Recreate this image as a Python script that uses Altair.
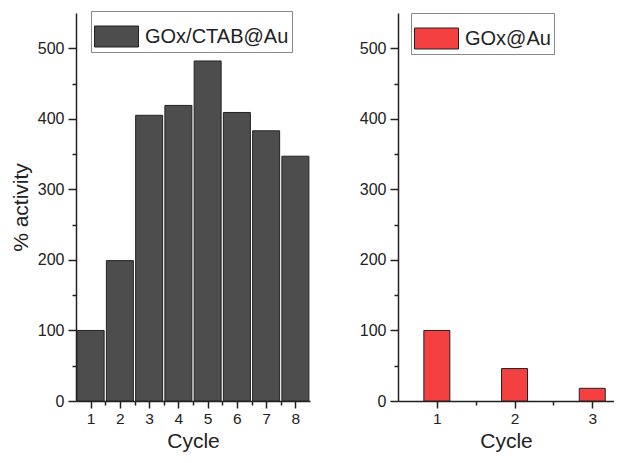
import altair as alt
import pandas as pd

# ---- data ----
series_a = "GOx/CTAB@Au"
cycles_a = [1, 2, 3, 4, 5, 6, 7, 8]
activity_a = [100, 199, 405, 419, 482, 409, 383, 347]

series_b = "GOx@Au"
cycles_b = [1, 2, 3]
activity_b = [100, 46, 18]

y_ticks = [0, 50, 100, 150, 200, 250, 300, 350, 400, 450, 500]
x_ticks_a = [1, 1.5, 2, 2.5, 3, 3.5, 4, 4.5, 5, 5.5, 6, 6.5, 7, 7.5, 8]
x_ticks_b = [1, 1.5, 2, 2.5, 3]

df_a = pd.DataFrame({"Cycle": cycles_a, "activity": activity_a, "series": series_a})
df_b = pd.DataFrame({"Cycle": cycles_b, "activity": activity_b, "series": series_b})

FONT = "Liberation Sans"
INK = "#222222"


def y_axis(title):
    return alt.Axis(
        values=y_ticks,
        title=title,
        format="d",
        labelExpr="datum.value % 100 === 0 ? datum.label : ''",
        tickSize={"condition": {"test": "datum.value % 100 === 0", "value": 8}, "value": 4},
        labelFontSize=16,
        labelPadding=4,
        titleFontSize=21,
        titleFontWeight="normal",
        titlePadding=6,
        grid=False,
        labelOverlap=False,
    )


def x_axis(values):
    return alt.Axis(
        values=values,
        title="Cycle",
        format="~r",
        labelExpr="datum.value % 1 === 0 ? datum.label : ''",
        tickSize={"condition": {"test": "datum.value % 1 === 0", "value": 7}, "value": 4},
        labelFontSize=15.5,
        labelPadding=3,
        titleFontSize=21,
        titleFontWeight="normal",
        titlePadding=4,
        grid=False,
        labelOverlap=False,
        labelFlush=False,
    )


def legend(x, y):
    return alt.Legend(
        orient="none",
        legendX=x,
        legendY=y,
        title=None,
        symbolType="M-1,-0.477H1V0.477H-1Z",
        symbolSize=1936,
        symbolStrokeColor=INK,
        symbolStrokeWidth=1,
        symbolOpacity=1,
        labelFontSize=20,
        labelFont=FONT,
        labelColor=INK,
        labelOffset=6,
        padding=3,
        strokeColor="#8a8a8a",
        fillColor="white",
    )


left = (
    alt.Chart(df_a)
    .mark_bar(size=27, stroke=INK, strokeWidth=1)
    .encode(
        x=alt.X("Cycle:Q", scale=alt.Scale(domain=[0.5, 8.5], nice=False, zero=False, padding=0), axis=x_axis(x_ticks_a)),
        y=alt.Y("activity:Q", scale=alt.Scale(domain=[0, 550], nice=False, padding=0), axis=y_axis("% activity")),
        color=alt.Color(
            "series:N",
            scale=alt.Scale(domain=[series_a], range=["#4d4d4d"]),
            legend=legend(15, -2),
        ),
    )
    .properties(width=234, height=388)
)

right = (
    alt.Chart(df_b)
    .mark_bar(size=26, stroke=INK, strokeWidth=1)
    .encode(
        x=alt.X("Cycle:Q", scale=alt.Scale(domain=[0.5, 3.28], nice=False, zero=False, padding=0), axis=x_axis(x_ticks_b)),
        y=alt.Y("activity:Q", scale=alt.Scale(domain=[0, 550], nice=False, padding=0), axis=y_axis(None)),
        color=alt.Color(
            "series:N",
            scale=alt.Scale(domain=[series_b], range=["#f44040"]),
            legend=legend(13, 0),
        ),
    )
    .properties(width=216, height=388)
)

chart = (
    alt.hconcat(left, right, spacing=88, bounds="flush")
    .resolve_scale(color="independent", x="independent", y="independent")
    .resolve_legend(color="independent")
    .properties(padding={"left": 2, "top": 2, "right": 0, "bottom": 0}, background="white")
    .configure_view(stroke=None)
    .configure_axis(
        domainColor=INK,
        domainWidth=1.5,
        tickColor=INK,
        tickWidth=1.5,
        labelColor=INK,
        titleColor=INK,
        labelFont=FONT,
        titleFont=FONT,
    )
)

chart.save("out.html", embed_options={"renderer": "svg", "actions": False})
